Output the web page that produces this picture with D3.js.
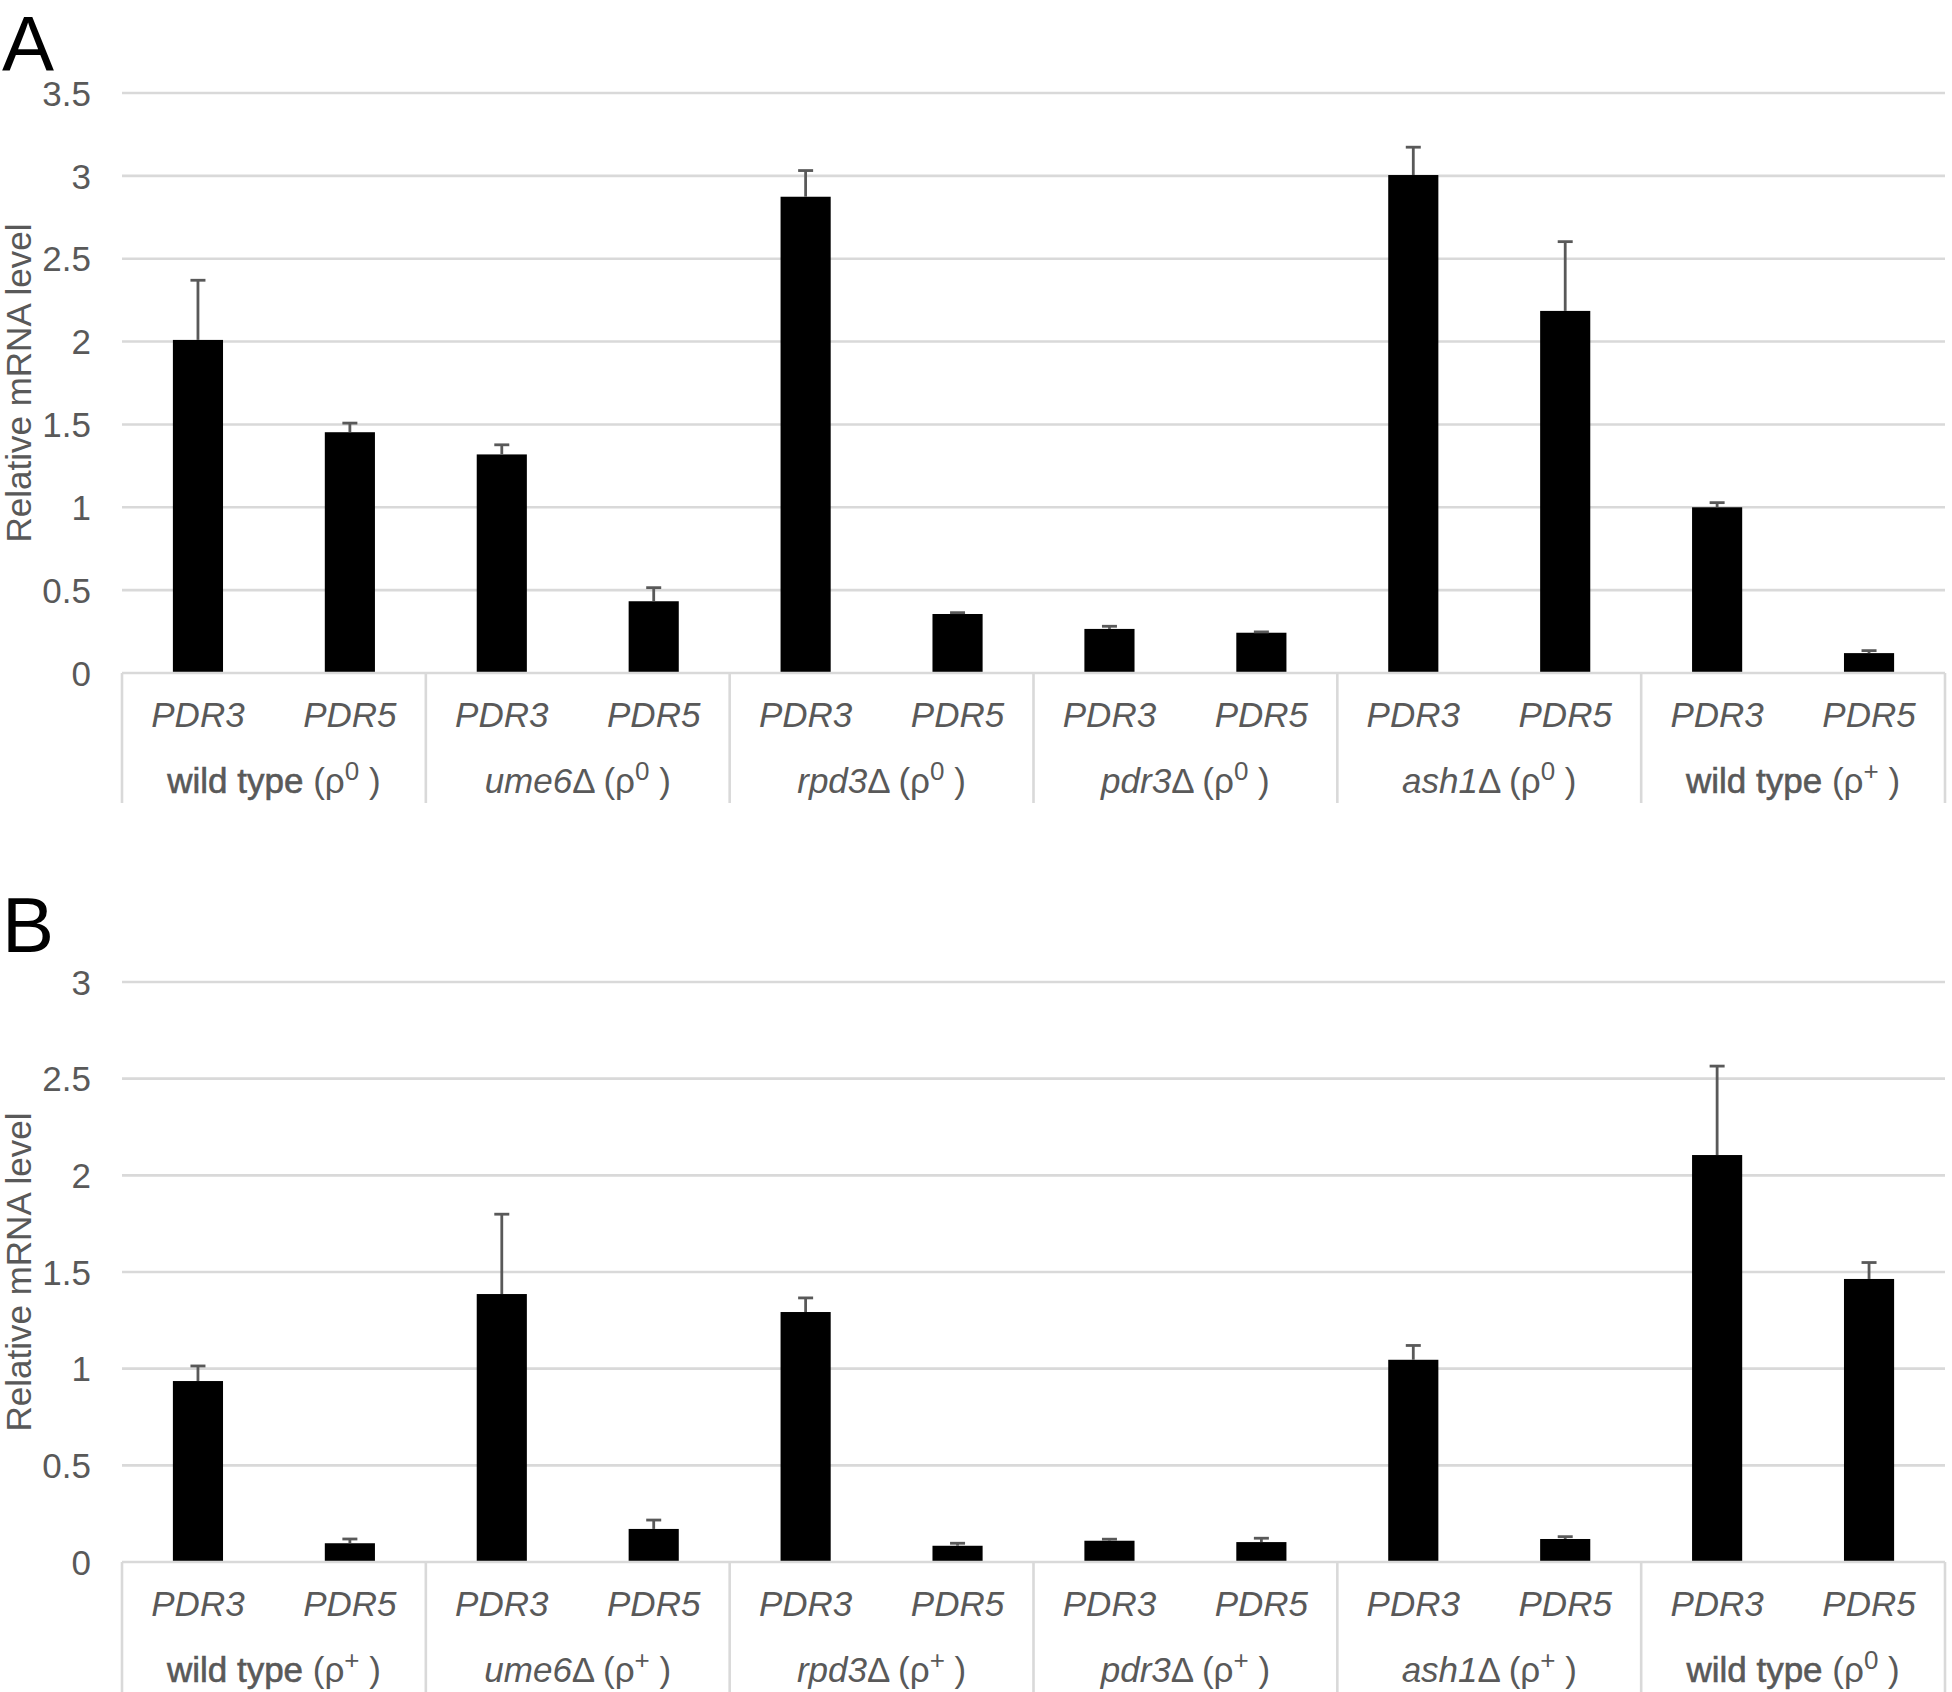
<!DOCTYPE html>
<html>
<head>
<meta charset="utf-8">
<script src="https://cdn.jsdelivr.net/npm/d3@7"></script>
<style>
  html, body { margin: 0; padding: 0; background: #fff; }
  svg { display: block; font-family: "Liberation Sans", Arial, Helvetica, sans-serif; }
</style>
</head>
<body>
<svg id="chart" width="1952" height="1692"></svg>
<script>
// ---------- data ----------
const genes = ["PDR3", "PDR5"];

// Panel A
const strainsA = ["wild type", "ume6", "rpd3", "pdr3", "ash1", "wild type"];
const rhoA = ["0", "0", "0", "0", "0", "+"];
const pdr3A = [2.01, 1.319, 2.874, 0.266, 3.005, 1.0];
const pdr3ErrA = [0.36, 0.058, 0.158, 0.016, 0.168, 0.028];
const pdr5A = [1.453, 0.433, 0.356, 0.243, 2.185, 0.12];
const pdr5ErrA = [0.055, 0.082, 0.008, 0.005, 0.418, 0.015];
const ticksA = [0, 0.5, 1, 1.5, 2, 2.5, 3, 3.5];

// Panel B
const strainsB = ["wild type", "ume6", "rpd3", "pdr3", "ash1", "wild type"];
const rhoB = ["+", "+", "+", "+", "+", "0"];
const pdr3B = [0.936, 1.386, 1.293, 0.11, 1.046, 2.105];
const pdr3ErrB = [0.078, 0.413, 0.073, 0.008, 0.074, 0.46];
const pdr5B = [0.097, 0.171, 0.084, 0.103, 0.119, 1.464];
const pdr5ErrB = [0.022, 0.046, 0.013, 0.02, 0.012, 0.085];
const ticksB = [0, 0.5, 1, 1.5, 2, 2.5, 3];

const yTitle = "Relative mRNA level";

// ---------- drawing ----------
const svg = d3.select("#chart");
const GRID = "#d9d9d9";
const TEXT = "#595959";
const FS = 35;

function panel(opts) {
  const { letter, letterY, top, bottom, yMax, ticks, strains, rho, v3, e3, v5, e5 } = opts;
  const left = 122, right = 1945;
  const g = svg.append("g");

  const y = d3.scaleLinear().domain([0, yMax]).range([bottom, top]);
  const groupIdx = d3.range(strains.length);
  const xg = d3.scaleBand().domain(groupIdx).range([left, right]).padding(0);
  const xi = d3.scaleBand().domain(genes).range([0, xg.bandwidth()])
    .paddingInner(0.67).paddingOuter(0.335);

  // panel letter
  g.append("text").attr("x", 2).attr("y", letterY)
    .attr("font-size", 78).attr("fill", "#000").text(letter);

  // gridlines
  g.append("g").selectAll("line").data(ticks.filter(t => t > 0)).join("line")
    .attr("x1", left).attr("x2", right)
    .attr("y1", d => y(d)).attr("y2", d => y(d))
    .attr("stroke", GRID).attr("stroke-width", 2.6);

  // y axis tick labels via d3.axisLeft
  const axis = d3.axisLeft(y).tickValues(ticks).tickSize(0).tickPadding(0)
    .tickFormat(d3.format("~g"));
  const ag = g.append("g").attr("transform", `translate(91,0)`).call(axis);
  ag.select(".domain").remove();
  ag.selectAll("text").attr("font-size", FS).attr("fill", TEXT)
    .attr("font-family", '"Liberation Sans", Arial, sans-serif')
    .attr("dy", "0.35em");

  // y title
  g.append("text")
    .attr("transform", `translate(31,${(top + bottom) / 2}) rotate(-90)`)
    .attr("text-anchor", "middle").attr("font-size", FS).attr("fill", TEXT)
    .text(yTitle);

  // bars
  const rows = [];
  groupIdx.forEach(i => {
    rows.push({ i, gene: "PDR3", v: v3[i], e: e3[i] });
    rows.push({ i, gene: "PDR5", v: v5[i], e: e5[i] });
  });
  const cx = d => xg(d.i) + xi(d.gene) + xi.bandwidth() / 2;

  g.append("g").selectAll("rect").data(rows).join("rect")
    .attr("x", d => xg(d.i) + xi(d.gene))
    .attr("width", xi.bandwidth())
    .attr("y", d => y(d.v))
    .attr("height", d => y(0) - y(d.v))
    .attr("fill", "#000");

  // error bars (upper only)
  const eb = g.append("g").attr("stroke", TEXT).attr("stroke-width", 2.8);
  eb.selectAll("line.v").data(rows).join("line").attr("class", "v")
    .attr("x1", cx).attr("x2", cx)
    .attr("y1", d => y(d.v)).attr("y2", d => y(d.v + d.e));
  eb.selectAll("line.c").data(rows).join("line").attr("class", "c")
    .attr("x1", d => cx(d) - 7.5).attr("x2", d => cx(d) + 7.5)
    .attr("y1", d => y(d.v + d.e)).attr("y2", d => y(d.v + d.e));

  // x axis line
  g.append("line").attr("x1", left).attr("x2", right)
    .attr("y1", y(0)).attr("y2", y(0))
    .attr("stroke", GRID).attr("stroke-width", 2.6);

  // group separators
  const bounds = groupIdx.map(i => xg(i)).concat([right]);
  g.append("g").selectAll("line").data(bounds).join("line")
    .attr("x1", d => d).attr("x2", d => d)
    .attr("y1", y(0)).attr("y2", y(0) + 130)
    .attr("stroke", GRID).attr("stroke-width", 2.6);

  // gene labels
  g.append("g").selectAll("text").data(rows).join("text")
    .attr("x", cx).attr("y", y(0) + 42).attr("dy", "0.35em")
    .attr("text-anchor", "middle").attr("font-size", FS)
    .attr("font-style", "italic").attr("fill", TEXT)
    .text(d => d.gene);

  // strain labels
  const sl = g.append("g").selectAll("text").data(groupIdx).join("text")
    .attr("x", i => xg(i) + xg.bandwidth() / 2)
    .attr("y", y(0) + 108).attr("dy", "0.35em")
    .attr("text-anchor", "middle").attr("font-size", FS).attr("fill", TEXT);
  sl.each(function (i) {
    const t = d3.select(this);
    const name = strains[i];
    const isWT = name === "wild type";
    if (isWT) {
      t.append("tspan").attr("stroke", TEXT).attr("stroke-width", 0.6).text(name);
      t.append("tspan").text(" (ρ");
    } else {
      t.append("tspan").attr("font-style", "italic").text(name);
      t.append("tspan").text("Δ (ρ");
    }
    t.append("tspan").attr("font-size", 26).attr("dy", -13).text(rho[i]);
    t.append("tspan").attr("dy", 13).text(" )");
  });
}

panel({
  letter: "A", letterY: 71, top: 93, bottom: 673, yMax: 3.5, ticks: ticksA,
  strains: strainsA, rho: rhoA, v3: pdr3A, e3: pdr3ErrA, v5: pdr5A, e5: pdr5ErrA
});
panel({
  letter: "B", letterY: 952, top: 982, bottom: 1562, yMax: 3, ticks: ticksB,
  strains: strainsB, rho: rhoB, v3: pdr3B, e3: pdr3ErrB, v5: pdr5B, e5: pdr5ErrB
});
</script>
</body>
</html>
